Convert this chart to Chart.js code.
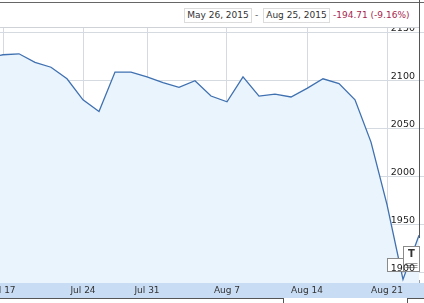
<!DOCTYPE html>
<html lang="en">
<head>
    <meta charset="UTF-8">
    <title>Chart May 26, 2015 - Aug 25, 2015</title>
    <style>
        html, body{
            margin: 0;
            padding: 0;
            background-color: #fff;
        }
        body{
            font-family: "DejaVu Sans", Verdana, sans-serif;
        }
        .rahmen{
            position: relative;
            width: 424px;
            height: 303px;
            overflow: hidden;
        }
        .linie{
            position: absolute;
        }
        .datum{
            position: absolute;
            top: 8px;
            height: 13px;
            line-height: 13px;
            border: 1px solid #dcdcdc;
            font-size: 9px;
            color: #333;
            text-align: center;
        }
        #strich{
            position: absolute;
            left: 255px;
            top: 8px;
            line-height: 15px;
            font-size: 9px;
            color: #555;
        }
        #aenderung{
            position: absolute;
            left: 333px;
            top: 8px;
            line-height: 15px;
            font-size: 9px;
            color: #a8264f;
        }
        #band{
            position: absolute;
            left: 0;
            top: 283px;
            width: 424px;
            height: 15px;
            background-color: #c8dcf4;
        }
        #diagramm{
            position: absolute;
            left: 0;
            top: 27px;
        }
    </style>
</head>
<body>
    <div class="rahmen">
        <div class="linie" style="left:0;top:2px;width:424px;height:1px;background:#666;"></div>
        <div class="datum" style="left:184px;width:66px;">May 26, 2015</div>
        <div id="strich">-</div>
        <div class="datum" style="left:263px;width:65px;">Aug 25, 2015</div>
        <div id="aenderung">-194.71 (-9.16%)</div>
        <div id="band"></div>
        <canvas id="diagramm" width="424" height="276"></canvas>
        <div class="linie" style="left:0;top:27px;width:419px;height:1px;background:#cfd3d8;"></div>
        <div class="linie" style="left:419px;top:0;width:1px;height:238px;background:#555;"></div>
        <div class="linie" style="left:0;top:298px;width:284px;height:1px;background:#555;"></div>
        <div class="linie" style="left:283px;top:298px;width:1px;height:5px;background:#555;"></div>
        <div class="linie" style="left:407px;top:298px;width:1px;height:5px;background:#555;"></div>
        <div class="linie" style="left:407px;top:298px;width:17px;height:1px;background:#555;"></div>
    </div>

    <script src="https://cdn.jsdelivr.net/npm/chart.js"></script>
    <script>
        // Handelstage (Jul 16 liegt links ausserhalb des sichtbaren Bereichs)
        const tage = ['Jul 16', 'Jul 17', 'Jul 20', 'Jul 21', 'Jul 22', 'Jul 23', 'Jul 24', 'Jul 27',
            'Jul 29', 'Jul 30', 'Jul 31', 'Aug 3', 'Aug 4', 'Aug 5', 'Aug 6', 'Aug 7', 'Aug 10',
            'Aug 11', 'Aug 12', 'Aug 13', 'Aug 14', 'Aug 17', 'Aug 18', 'Aug 19', 'Aug 20',
            'Aug 21', 'Aug 24', 'Aug 25'];
        const kurse = [2124, 2127, 2128, 2119, 2114, 2102, 2080, 2068,
            2109, 2109, 2104, 2098, 2093, 2100, 2084, 2078, 2104,
            2084, 2086, 2083, 2092, 2102, 2097, 2080, 2036,
            1971, 1893, 1939];
        const xBeschriftung = ['Jul 17', 'Jul 24', 'Jul 31', 'Aug 7', 'Aug 14', 'Aug 21'];
        const yBeschriftung = [1900, 1950, 2000, 2050, 2100, 2150];

        // Index 0 = Jul 17
        const punkte = kurse.map((wert, i) => ({x: i - 1, y: wert}));
        const tagIndex = name => tage.indexOf(name) - 1;

        const tickStriche = {
            id: 'tickStriche',
            beforeDatasetsDraw(chart) {
                const ctx = chart.ctx;
                const xs = chart.scales.x;
                const unten = chart.chartArea.bottom;
                ctx.save();
                ctx.strokeStyle = '#9aa0a8';
                ctx.lineWidth = 1;
                for (let i = 0; i < tage.length - 1; i++) {
                    const px = Math.round(xs.getPixelForValue(i)) + 0.5;
                    ctx.beginPath();
                    ctx.moveTo(px, unten - 3);
                    ctx.lineTo(px, unten);
                    ctx.stroke();
                }
                ctx.restore();
            }
        };

        const fahnen = {
            id: 'fahnen',
            afterDatasetsDraw(chart) {
                const ctx = chart.ctx;
                const xs = chart.scales.x;
                const a = Math.round(xs.getPixelForValue(tagIndex('Aug 21'))) + 0.5;
                const b = Math.round(xs.getPixelForValue(tagIndex('Aug 24'))) + 0.5;
                ctx.save();
                ctx.strokeStyle = '#8a8a8a';
                ctx.fillStyle = '#fff';
                ctx.lineWidth = 1;
                ctx.fillRect(a, 231.5, 16, 13);
                ctx.strokeRect(a, 231.5, 16, 13);
                ctx.fillRect(b, 219.5, 16, 25);
                ctx.strokeRect(b, 219.5, 16, 25);
                ctx.fillStyle = '#333';
                ctx.font = 'bold 10px "DejaVu Sans"';
                ctx.textAlign = 'center';
                ctx.textBaseline = 'top';
                ctx.fillText('T', b + 8, 222);
                ctx.strokeStyle = '#9a9a9a';
                for (let k = 0; k < 3; k++) {
                    ctx.beginPath();
                    ctx.moveTo(b + 2, 236.5 + k * 2);
                    ctx.lineTo(b + 14, 236.5 + k * 2);
                    ctx.stroke();
                }
                ctx.restore();
            }
        };

        new Chart(document.getElementById('diagramm'), {
            type: 'line',
            data: {
                datasets: [{
                    data: punkte,
                    borderColor: '#3f70b0',
                    borderWidth: 1.3,
                    backgroundColor: '#eaf4fd',
                    fill: 'start',
                    pointRadius: 0,
                    tension: 0
                }]
            },
            options: {
                responsive: false,
                animation: false,
                devicePixelRatio: 1,
                layout: {padding: {left: 0, right: 0, top: 0, bottom: 5}},
                plugins: {
                    legend: {display: false},
                    tooltip: {enabled: false}
                },
                scales: {
                    x: {
                        type: 'linear',
                        min: -0.1875,
                        max: 26.3125,
                        afterBuildTicks: scale => {
                            scale.ticks = xBeschriftung.map(t => ({value: tagIndex(t)}));
                        },
                        afterFit: scale => {
                            scale.height = 15;
                            scale.paddingLeft = 0;
                            scale.paddingRight = 0;
                        },
                        grid: {color: '#d5dae0', drawTicks: false},
                        border: {display: false},
                        ticks: {
                            padding: 2,
                            maxRotation: 0,
                            autoSkip: false,
                            color: '#333',
                            font: {family: 'DejaVu Sans', size: 9},
                            callback: value => tage[value + 1]
                        }
                    },
                    y: {
                        position: 'right',
                        min: 1889.3,
                        max: 2155.9,
                        afterBuildTicks: scale => {
                            scale.ticks = yBeschriftung.map(v => ({value: v}));
                        },
                        afterFit: scale => {
                            scale.width = 0;
                            scale.paddingTop = 0;
                            scale.paddingBottom = 0;
                        },
                        grid: {color: '#d5dae0', drawTicks: false},
                        border: {display: false},
                        ticks: {
                            mirror: true,
                            padding: -9,
                            labelOffset: -4,
                            z: 1,
                            color: '#222',
                            font: {family: 'DejaVu Sans', size: 9.5},
                            callback: value => String(value)
                        }
                    }
                }
            },
            plugins: [tickStriche, fahnen]
        });
    </script>
</body>
</html>
